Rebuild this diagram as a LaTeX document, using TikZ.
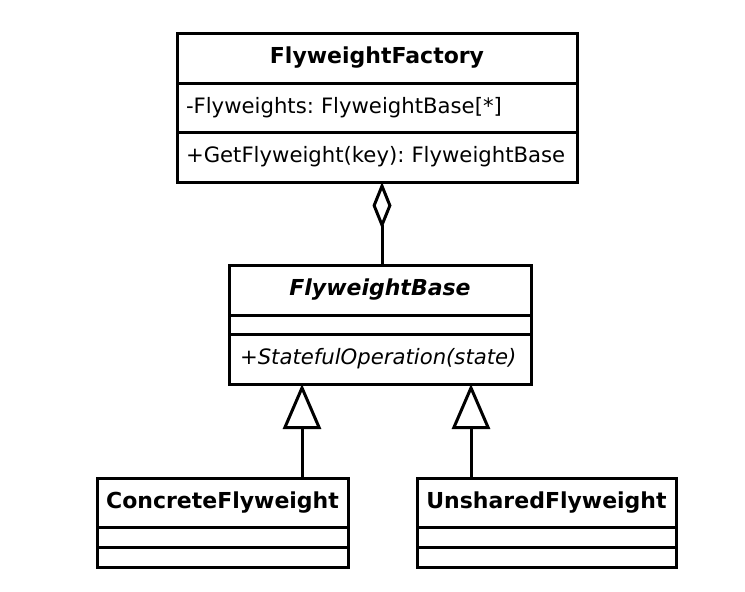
\documentclass[tikz,border=0pt]{standalone}
\usepackage{fontspec}
\setmainfont{DejaVu Sans}
\usetikzlibrary{positioning,arrows.meta}
\frenchspacing
\begin{document}
\begin{tikzpicture}[x=1pt,y=-1pt,line width=3pt]
      \tikzset{classname/.style={draw,outer sep=0pt,minimum height=50pt,font=\fontsize{22}{26}\selectfont\bfseries},
        abstractname/.style={classname,font=\fontsize{22}{26}\selectfont\bfseries\itshape},
        compart/.style={draw,outer sep=0pt,inner xsep=9pt,inner ysep=0pt,align=left,font=\fontsize{21.2}{25}\selectfont},
        aggr/.style={{Diamond[open,length=47pt,width=19pt]}-},
        gen/.style={-{Triangle[open,length=45pt,width=38pt]}}}
      \useasboundingbox (0,0) rectangle (745,592);
      \node[classname,minimum width=400pt] (factory) at (377,58) {FlyweightFactory};
      \node[compart,text width=382pt,minimum height=49pt,below=0pt of factory] (factoryattr) {-Flyweights: FlyweightBase[*]};
      \node[compart,text width=382pt,minimum height=50pt,below=0pt of factoryattr] (factoryop) {+GetFlyweight(key): FlyweightBase};
      \node[abstractname,minimum width=302pt] (base) at (380,290) {FlyweightBase};
      \node[compart,minimum width=302pt,minimum height=19pt,below=0pt of base] (baseattr) {};
      \node[compart,inner xsep=11pt,text width=280pt,minimum height=50pt,below=0pt of baseattr,font=\fontsize{21.2}{25}\selectfont\itshape] (baseop) {+StatefulOperation(state)};
      \node[classname,minimum width=251pt,minimum height=49pt] (concrete) at (222.5,502.5) {ConcreteFlyweight};
      \node[compart,minimum width=251pt,minimum height=20pt,below=0pt of concrete] (concreteattr) {};
      \node[compart,minimum width=251pt,minimum height=20pt,below=0pt of concreteattr] (concreteop) {};
      \node[classname,minimum width=259pt,minimum height=49pt] (unshared) at (546.5,502.5) {UnsharedFlyweight};
      \node[compart,minimum width=259pt,minimum height=20pt,below=0pt of unshared] (unsharedattr) {};
      \node[compart,minimum width=259pt,minimum height=20pt,below=0pt of unsharedattr] (unsharedop) {};
      \coordinate (gen1) at ([xshift=-46pt]concrete.north east);
      \coordinate (gen2) at ([xshift=54pt]unshared.north west);
      \draw[aggr] ([xshift=2pt]base.north |- factoryop.south) -- ([xshift=2pt]base.north);
      \draw[gen] (gen1) -- (gen1 |- baseop.south);
      \draw[gen] (gen2) -- (gen2 |- baseop.south);
    \end{tikzpicture}
\end{document}
